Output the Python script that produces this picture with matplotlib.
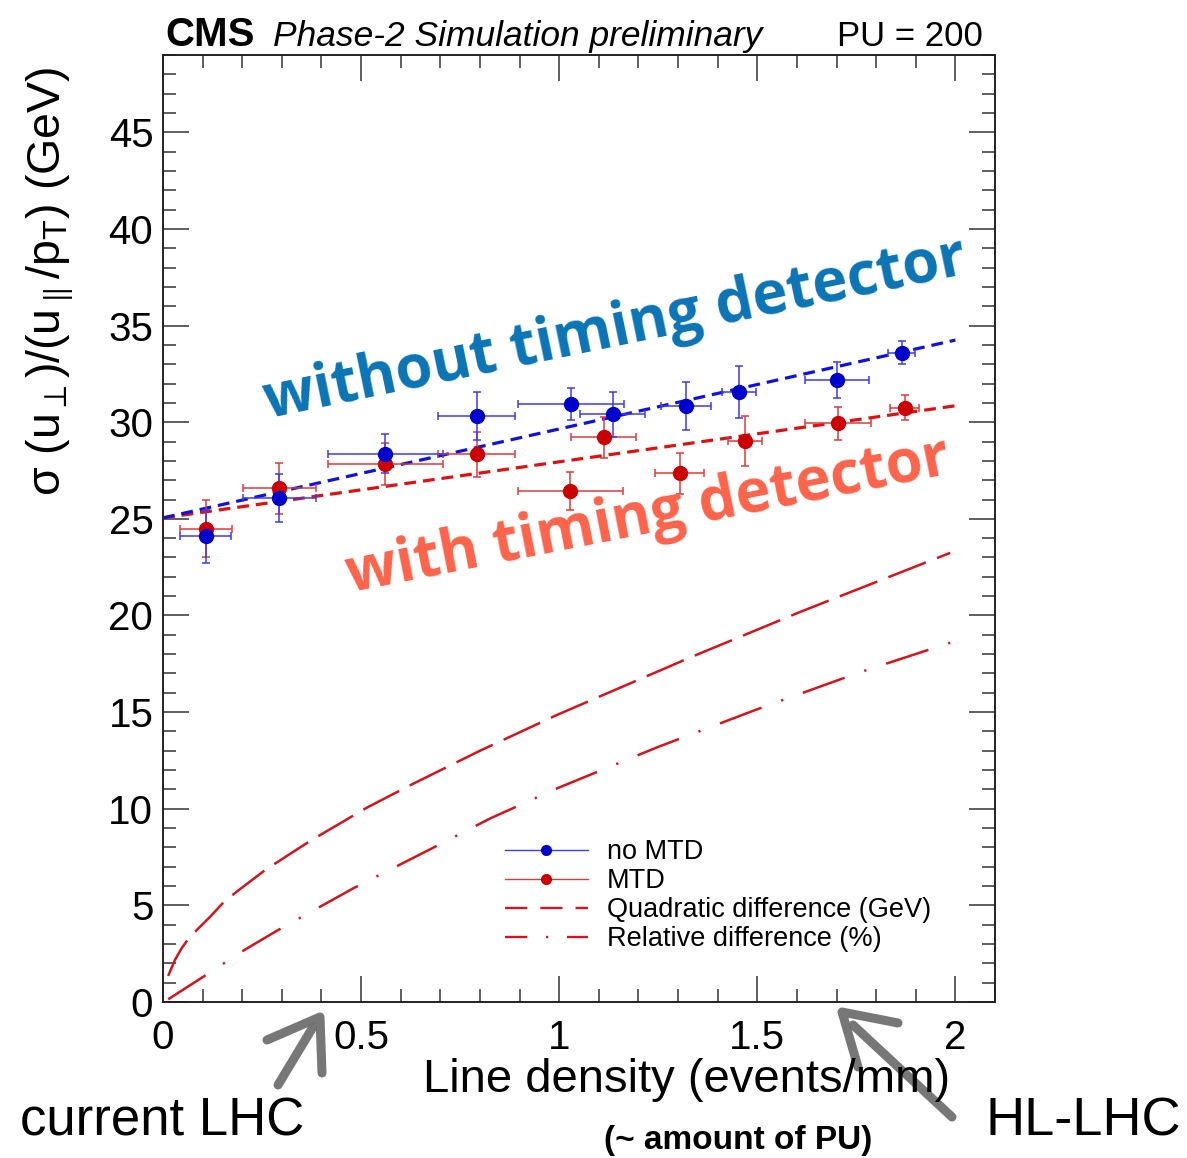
import numpy as np
import matplotlib
matplotlib.use("Agg")
from matplotlib import pyplot as plt
from matplotlib.lines import Line2D
from matplotlib.ticker import MultipleLocator

plt.rcParams['font.family'] = ['Liberation Sans', 'DejaVu Sans']
plt.rcParams['mathtext.fontset'] = 'custom'
plt.rcParams['mathtext.rm'] = 'Liberation Sans'
plt.rcParams['mathtext.it'] = 'Liberation Sans:italic'
plt.rcParams['mathtext.fallback'] = 'stixsans'
plt.rcParams['lines.scale_dashes'] = False

# Data ----------------------------------------------
# no MTD (without timing detector)
x_nomtd = [0.108, 0.294, 0.561, 0.792, 1.030, 1.135, 1.321, 1.453, 1.701, 1.865]
y_nomtd = [24.10, 26.10, 28.38, 30.33, 30.94, 30.42, 30.85, 31.57, 32.18, 33.60]
xerr_nomtd = [0.064, 0.091, 0.145, 0.097, 0.133, 0.082, 0.063, 0.043, 0.081, 0.034]
yerr_nomtd = [1.37, 1.24, 1.00, 1.23, 0.84, 1.16, 1.25, 1.35, 0.92, 0.58]

# MTD (with timing detector)
x_mtd = [0.108, 0.294, 0.561, 0.792, 1.028, 1.112, 1.304, 1.470, 1.703, 1.872]
y_mtd = [24.50, 26.57, 27.83, 28.33, 26.44, 29.21, 27.35, 29.04, 29.94, 30.76]
xerr_mtd = [0.065, 0.091, 0.145, 0.097, 0.133, 0.083, 0.062, 0.043, 0.083, 0.036]
yerr_mtd = [1.50, 1.33, 1.10, 1.15, 0.97, 1.05, 1.08, 1.30, 0.86, 0.66]

# linear fits (end points)
fit_x = [0.0, 2.0]
fit_nomtd = [25.05, 34.25]
fit_mtd = [25.05, 30.85]

# quadratic difference (GeV)
quad_x = [0.013, 0.030, 0.047, 0.062, 0.085, 0.119, 0.152, 0.186, 0.258, 0.371,
          0.514, 0.632, 0.80, 0.994, 1.331, 1.609, 1.987]
quad_y = [1.35, 2.17, 2.78, 3.21, 3.72, 4.41, 5.14, 5.71, 6.83, 8.33,
          10.05, 11.3, 13.0, 14.85, 17.83, 20.19, 23.24]

# relative difference (%)
rel_x = [0.013, 0.102, 0.198, 0.286, 0.48, 0.674, 0.826, 0.994, 1.25, 1.499, 1.756, 1.987]
rel_y = [0.14, 1.31, 2.6, 3.67, 5.88, 7.9, 9.5, 11.05, 13.2, 15.14, 17.04, 18.59]

xticks = [0, 0.5, 1, 1.5, 2]
xticklabels = ['0', '0.5', '1', '1.5', '2']
yticks = [0, 5, 10, 15, 20, 25, 30, 35, 40, 45]

# colours
c_blue = '#0000cc'
c_blue_err = '#3b3bf0'
c_red = '#cc0000'
c_red_err = '#dd3b3b'
c_curve = '#d4141c'
c_grey = '#707070'

W, H = 1187, 1158
fig = plt.figure(figsize=(W / 100, H / 100), dpi=100)
ax = fig.add_axes([163 / W, (H - 1002) / H, 832 / W, 947 / H])

# curves
ax.plot(quad_x, quad_y, color=c_curve, lw=1.8, dashes=(29, 8.6))
ax.plot(rel_x, rel_y, color=c_curve, lw=1.8, dashes=(32, 15, 1.6, 15))

# fits
ax.plot(fit_x, fit_mtd, color='#dd1111', lw=2.3, dashes=(8.5, 5))
ax.plot(fit_x, fit_nomtd, color='#1111dd', lw=2.3, dashes=(8.5, 5))

# points
ax.errorbar(x_mtd, y_mtd, xerr=xerr_mtd, yerr=yerr_mtd, fmt='o', ms=10,
            color=c_red, ecolor=c_red_err, elinewidth=1.1, capsize=2.8, capthick=1.1)
ax.errorbar(x_nomtd, y_nomtd, xerr=xerr_nomtd, yerr=yerr_nomtd, fmt='o', ms=10,
            color=c_blue, ecolor=c_blue_err, elinewidth=1.1, capsize=2.8, capthick=1.1)

ax.set_xlim(0, 2.1)
ax.set_ylim(0, 49)
ax.set_xticks(xticks)
ax.set_xticklabels(xticklabels)
ax.set_yticks(yticks)
ax.xaxis.set_minor_locator(MultipleLocator(0.1))
ax.yaxis.set_minor_locator(MultipleLocator(1))
ax.tick_params(which='both', direction='in', top=True, right=True, width=1.1, color='#333333')
ax.tick_params(which='major', length=19, labelsize=29)
ax.tick_params(which='minor', length=9.5)
ax.tick_params(axis='x', pad=12)
ax.tick_params(axis='y', pad=7)
for s in ax.spines.values():
    s.set_linewidth(1.4)
    s.set_color('#222222')

# legend
handles = [
    Line2D([], [], color=c_blue_err, lw=1.0, marker='o', ms=7, mfc=c_blue, mec=c_blue),
    Line2D([], [], color=c_red_err, lw=1.0, marker='o', ms=7, mfc=c_red, mec=c_red),
    Line2D([], [], color=c_curve, lw=1.7, dashes=(16, 9.4)),
    Line2D([], [], color=c_curve, lw=1.7, dashes=(16, 13.5, 1.6, 13.5)),
]
labels = ['no MTD', 'MTD', 'Quadratic difference (GeV)', 'Relative difference (%)']
ax.legend(handles, labels, loc='upper left', bbox_to_anchor=(0.411, 0.1717),
          frameon=False, fontsize=19.5, handlelength=3.05, handletextpad=0.7,
          labelspacing=0.11, borderpad=0, borderaxespad=0)

# axis titles
fig.text(950 / W, 1 - 1080 / H, 'Line density (events/mm)', ha='right', va='center', fontsize=34)
fig.text(50 / W, 1 - 281 / H,
         'σ (u$_{\\perp}$)/(u$_{\\parallel}$/p$_{\\mathrm{T}}$) (GeV)',
         rotation=90, ha='center', va='center', fontsize=33.5)

# header
fig.text(165 / W, 1 - 46 / H, 'CMS', fontsize=29, weight='bold', va='baseline')
fig.text(273 / W, 1 - 46 / H, 'Phase-2 Simulation preliminary', fontsize=25.5,
         style='italic', va='baseline')
fig.text(983 / W, 1 - 46 / H, 'PU = 200', fontsize=25, ha='right', va='baseline')

# annotations
fig.text(615 / W, 1 - 331 / H, 'without timing detector', rotation=11.7,
         rotation_mode='anchor', ha='center', va='center', fontsize=43,
         family=['Open Sans', 'DejaVu Sans'], weight='bold', color='#0a74b6')
fig.text(648 / W, 1 - 517 / H, 'with timing detector', rotation=11.2,
         rotation_mode='anchor', ha='center', va='center', fontsize=43,
         family=['Open Sans', 'DejaVu Sans'], weight='bold', color='#fd634a')

fig.text(20 / W, 1 - 1136 / H, 'current LHC', fontsize=38, va='baseline')
fig.text(985 / W, 1 - 1136 / H, 'HL-LHC', fontsize=39, va='baseline')
fig.text(738 / W, 1 - 1140 / H, '(~ amount of PU)', fontsize=24, weight='bold',
         ha='center', va='center')

# hand-drawn arrows (pixel coords of the figure)
arrow_strokes = [
    [(278, 1085), (313, 1027)],
    [(267, 1040), (320, 1017), (322, 1073)],
    [(952, 1117), (853, 1025)],
    [(898, 1023), (842, 1012), (858, 1067)],
]
for stroke in arrow_strokes:
    xs = [p[0] / W for p in stroke]
    ys = [1 - p[1] / H for p in stroke]
    fig.add_artist(Line2D(xs, ys, transform=fig.transFigure, color=c_grey, lw=6.5,
                          solid_capstyle='round', solid_joinstyle='round', alpha=0.95))

fig.savefig('out.png', dpi=100)
